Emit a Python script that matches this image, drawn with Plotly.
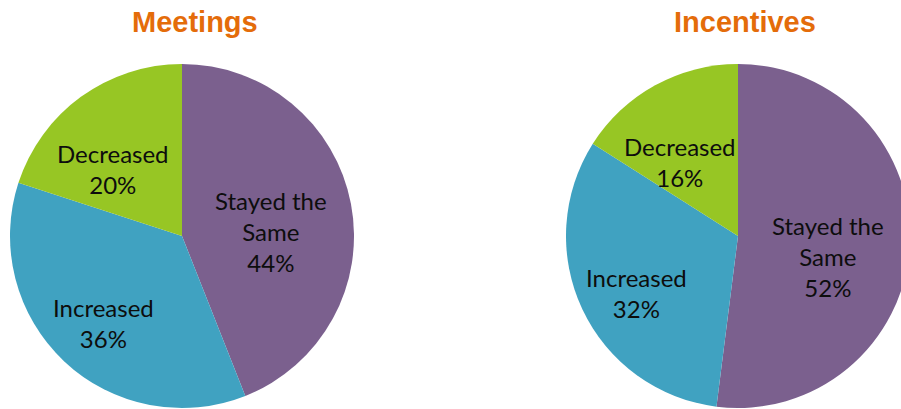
import math
import plotly.graph_objects as go

# Survey responses: share of respondents per outcome
categories = ["Stayed the Same", "Increased", "Decreased"]
meetings_pct = [44, 36, 20]
incentives_pct = [52, 32, 16]
chart_titles = ["Meetings", "Incentives"]

slice_colors = ["#7B608E", "#40A2C1", "#97C624"]
title_color = "#E46C0A"
label_font = "Lato, Calibri, 'Open Sans', sans-serif"
label_color = "#0D0D0D"

FIG_W, FIG_H = 910, 409
M_TOP, M_BOT = 64, 1
plot_h = FIG_H - M_TOP - M_BOT

# Pie geometry in pixels
radius = 172
centres_x = [182, 738]
centre_y = M_TOP + plot_h / 2
title_x = [195, 745]
title_y = 22

# Data-label placement: distance along the slice bisector plus a small shift
label_dist = 0.585 * radius
label_shift = (-10, 14)


def wrap(label):
    return label.replace("the Same", "the<br>Same")


def px_to_paper(px, py):
    return px / FIG_W, (FIG_H - M_BOT - py) / plot_h


fig = go.Figure()
for cx, vals in zip(centres_x, [meetings_pct, incentives_pct]):
    fig.add_trace(go.Pie(
        labels=categories,
        values=vals,
        textinfo="none",
        sort=False,
        direction="clockwise",
        rotation=0,
        marker=dict(colors=slice_colors, line=dict(width=0)),
        domain=dict(x=[(cx - radius) / FIG_W, (cx + radius) / FIG_W], y=[0, 1]),
        showlegend=False,
        hoverinfo="label+percent",
    ))

    # slice labels, positioned from each slice's mid-angle (clockwise from 12 o'clock)
    total = sum(vals)
    cum = 0.0
    for cat, v in zip(categories, vals):
        mid = (cum + v / 2) / total * 2 * math.pi
        cum += v
        lx = cx + label_dist * math.sin(mid) + label_shift[0]
        ly = centre_y - label_dist * math.cos(mid) + label_shift[1]
        xp, yp = px_to_paper(lx, ly)
        fig.add_annotation(
            text=f"{wrap(cat)}<br>{v}%",
            x=xp, y=yp, xref="paper", yref="paper",
            xanchor="center", yanchor="middle", align="center",
            showarrow=False,
            font=dict(family=label_font, size=24, color=label_color),
        )

for tx, title in zip(title_x, chart_titles):
    xp, yp = px_to_paper(tx, title_y)
    fig.add_annotation(
        text=f"<b>{title}</b>",
        x=xp, xref="paper", xanchor="center",
        y=yp, yref="paper", yanchor="middle",
        showarrow=False,
        font=dict(family="Liberation Sans, Arial, sans-serif", size=29, color=title_color),
    )

fig.update_layout(
    width=FIG_W, height=FIG_H,
    margin=dict(l=0, r=0, t=M_TOP, b=M_BOT, pad=0),
    paper_bgcolor="white", plot_bgcolor="white",
)

fig.write_html(
    "out.html",
    post_script="document.body.style.overflow='hidden';"
                "document.documentElement.style.overflow='hidden';",
)
